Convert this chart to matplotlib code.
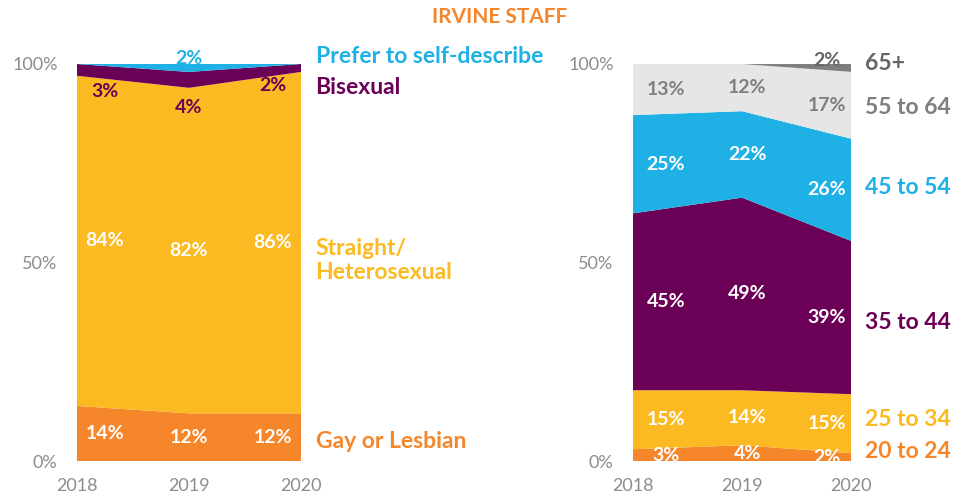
import matplotlib
matplotlib.use("Agg")
import matplotlib.pyplot as plt
import numpy as np

plt.rcParams['font.family'] = ['Lato', 'DejaVu Sans']

years = [2018, 2019, 2020]

# Left chart: sexual orientation
orient_names = ["Gay or Lesbian", "Straight/\nHeterosexual", "Bisexual", "Prefer to self-describe"]
gay = [14, 12, 12]
straight = [84, 82, 86]
bisexual = [3, 4, 2]
selfdesc = [0, 2, 0]

# Right chart: age groups
age_names = ["20 to 24", "25 to 34", "35 to 44", "45 to 54", "55 to 64", "65+"]
age_20_24 = [3, 4, 2]
age_25_34 = [15, 14, 15]
age_35_44 = [45, 49, 39]
age_45_54 = [25, 22, 26]
age_55_64 = [13, 12, 17]
age_65 = [0, 0, 2]

ORANGE = "#F5862A"
YELLOW = "#FBBA22"
PURPLE = "#6B0057"
BLUE = "#1FB0E6"
LGRAY = "#E6E6E6"
DGRAY = "#7F7F7F"
TICK = "#8C8C8C"

VAL_FS = 14
NAME_FS = 16.5

fig = plt.figure(figsize=(9.73, 4.98), dpi=100)
axL = fig.add_axes([77/973, 37/498, 224/973, 397/498])
axR = fig.add_axes([633/973, 37/498, 218/973, 397/498])

def norm(series):
    arr = np.array(series, dtype=float)
    return arr / arr.sum(axis=0) * 100

def style(ax):
    ax.set_xlim(0, 2)
    ax.set_ylim(0, 100)
    ax.set_xticks([0, 1, 2])
    ax.set_xticklabels([str(y) for y in years])
    ax.set_yticks([0, 50, 100])
    ax.set_yticklabels(["0%", "50%", "100%"])
    for s in ax.spines.values():
        s.set_visible(False)
    ax.tick_params(length=0, colors=TICK, labelsize=13)
    ax.tick_params(axis='x', pad=12)
    ax.tick_params(axis='y', pad=14)

x = np.arange(3)

# Left
L = norm([gay, straight, bisexual, selfdesc])
colorsL = [ORANGE, YELLOW, PURPLE, BLUE]
axL.stackplot(x, L, colors=colorsL, linewidth=0)
style(axL)
cumL = np.cumsum(L, axis=0)
lab_x_L = [0.25, 1.0, 1.75]
vals_L = [gay, straight, bisexual, selfdesc]
for i in range(3):
    for k in range(2):
        mid = cumL[k, i] - L[k, i] / 2
        axL.text(lab_x_L[i], mid, f"{vals_L[k][i]}%", color="white", fontsize=VAL_FS,
                 fontweight="bold", ha="center", va="center")
# bisexual labels below the thin band
bis_y = [93, 89, 94.5]
for i in range(3):
    axL.text(lab_x_L[i], bis_y[i], f"{bisexual[i]}%", color=PURPLE, fontsize=VAL_FS,
             fontweight="bold", ha="center", va="center")
axL.text(1.0, 101.5, f"{selfdesc[1]}%", color=BLUE, fontsize=VAL_FS, fontweight="bold",
         ha="center", va="center", clip_on=False)

# series names left
name_y_L = [5, 50.5, 94, 102]
for k, (nm, c) in enumerate(zip(orient_names, colorsL)):
    axL.text(2.13, name_y_L[k], nm, color=c, fontsize=NAME_FS, fontweight="bold",
             ha="left", va="center", clip_on=False, linespacing=1.2)

# Right
R = norm([age_20_24, age_25_34, age_35_44, age_45_54, age_55_64, age_65])
colorsR = [ORANGE, YELLOW, PURPLE, BLUE, LGRAY, DGRAY]
axR.stackplot(x, R, colors=colorsR, linewidth=0)
style(axR)
cumR = np.cumsum(R, axis=0)
lab_x_R = [0.3, 1.05, 1.78]
vals_R = [age_20_24, age_25_34, age_35_44, age_45_54, age_55_64, age_65]
for i in range(3):
    for k in range(5):
        mid = cumR[k, i] - R[k, i] / 2
        col = "white" if k < 4 else DGRAY
        axR.text(lab_x_R[i], mid, f"{vals_R[k][i]}%", color=col, fontsize=VAL_FS,
                 fontweight="bold", ha="center", va="center")
axR.text(1.78, 100.8, f"{age_65[2]}%", color="#666666", fontsize=VAL_FS, fontweight="bold",
         ha="center", va="center", clip_on=False)

name_y_R = [2.5, 10.5, 35, 69, 89, 100]
name_col_R = [ORANGE, YELLOW, PURPLE, BLUE, DGRAY, "#666666"]
for k, nm in enumerate(age_names):
    axR.text(2.13, name_y_R[k], nm, color=name_col_R[k], fontsize=NAME_FS, fontweight="bold",
             ha="left", va="center", clip_on=False)

fig.text(500/973, 1 - 17/498, "IRVINE STAFF", color=ORANGE, fontsize=15,
         fontweight="bold", ha="center", va="center")

fig.savefig("out.png", dpi=100)
